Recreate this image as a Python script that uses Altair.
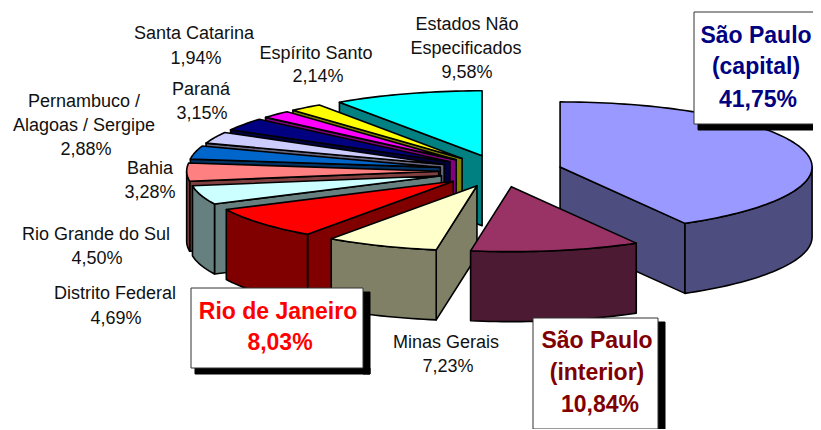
import math
import altair as alt
import pandas as pd

# ---- data ----
regions = ["São Paulo (capital)", "São Paulo (interior)", "Minas Gerais", "Rio de Janeiro",
           "Distrito Federal", "Rio Grande do Sul", "Bahia", "Pernambuco / Alagoas / Sergipe",
           "Paraná", "Santa Catarina", "Espírito Santo", "Estados Não Especificados"]
shares = [41.75, 10.84, 7.23, 8.03, 4.69, 4.50, 3.28, 2.88, 3.15, 1.94, 2.14, 9.58]
top_colors = ["#9999FF", "#993366", "#FFFFCC", "#FF0000", "#CCFFFF", "#FF8080",
              "#0066CC", "#CCCCFF", "#000080", "#FF00FF", "#FFFF00", "#00FFFF"]
side_colors = ["#4D4D80", "#4D1A33", "#808066", "#800000", "#668080", "#804040",
               "#003366", "#666680", "#000040", "#800080", "#808000", "#008080"]

plain_lines = ["Santa Catarina", "1,94%", "Espírito Santo", "2,14%", "Paraná", "3,15%",
               "Pernambuco /", "Alagoas / Sergipe", "2,88%", "Bahia", "3,28%",
               "Rio Grande do Sul", "4,50%", "Distrito Federal", "4,69%",
               "Minas Gerais", "7,23%", "Estados Não", "Especificados", "9,58%"]
bold_lines = ["São Paulo", "(capital)", "41,75%", "São Paulo", "(interior)", "10,84%",
              "Rio de Janeiro", "8,03%"]
bold_colors = ["#000080"] * 3 + ["#800000"] * 3 + ["#FF0000"] * 2

# ---- layout (page pixels) ----
PAGE = 8
CX, CY = 500.4, 171.0      # centre of the unexploded pie
RX, RY = 252.0, 65.0       # ellipse of the tilted pie
DEPTH = 70.0
EXPLODE = 0.245
draw_order = [0, 11, 10, 9, 8, 7, 6, 5, 4, 3, 2, 1]

plain_x = [194, 196, 316, 318, 201, 202, 84, 84, 86, 150, 150, 96, 97, 115, 116, 446, 448, 467, 466, 467]
plain_y = [39, 64, 59, 82, 95, 119, 107, 131, 155, 174, 198, 240, 264, 299, 324, 348, 372, 30, 54, 78]
bold_x = [756, 756, 758, 597, 597, 600, 278, 280]
bold_y = [43, 74, 107, 348, 380, 412, 319, 350]
boxes = [(694, 12, 830, 124), (533, 318, 658, 429), (191, 288, 363, 368)]
shadows = [(698, 124, 830, 130), (658, 322, 665, 430), (363, 292, 370, 374), (195, 368, 370, 374)]


def pt(ax, ay, deg, z=0.0):
    r = math.radians(deg)
    return [ax + RX * math.sin(r) - PAGE, ay - RY * math.cos(r) + z - PAGE]


def feature(ring, fill, stroke="#000000"):
    ring = [list(p) for p in ring]
    ring.append(ring[0])
    return {"type": "Feature", "properties": {"fill": fill, "stroke": stroke},
            "geometry": {"type": "Polygon", "coordinates": [ring]}}


def wall(ax, ay, deg, color):
    apex_top = [ax - PAGE, ay - PAGE]
    apex_bot = [ax - PAGE, ay + DEPTH - PAGE]
    return feature([apex_top, pt(ax, ay, deg), pt(ax, ay, deg, DEPTH), apex_bot], color)


def arc(ax, ay, a, b, z=0.0, steps=None):
    n = steps or max(2, int((b - a) / 1.5) + 1)
    return [pt(ax, ay, a + (b - a) * i / n, z) for i in range(n + 1)]


# Angular extent of every slice, clockwise from twelve o'clock
total = sum(shares)
starts, ends, acc = [], [], 0.0
for s in shares:
    starts.append(acc * 360 / total)
    acc += s
    ends.append(acc * 360 / total)

faces = []
for i in draw_order:
    a, b = starts[i], ends[i]
    mid = math.radians((a + b) / 2)
    ax = CX + EXPLODE * RX * math.sin(mid)
    ay = CY - EXPLODE * RY * math.cos(mid)
    if 180 < a < 360:
        faces.append(wall(ax, ay, a, side_colors[i]))
    if 0 < b < 180:
        faces.append(wall(ax, ay, b, side_colors[i]))
    lo, hi = max(a, 90.0), min(b, 270.0)
    if hi > lo:
        faces.append(feature(arc(ax, ay, lo, hi) + arc(ax, ay, lo, hi, DEPTH)[::-1], side_colors[i]))
    faces.append(feature([[ax - PAGE, ay - PAGE]] + arc(ax, ay, a, b), top_colors[i]))


def rect(r, fill, stroke):
    x0, y0, x1, y1 = [v - PAGE for v in r]
    return feature([[x0, y0], [x1, y0], [x1, y1], [x0, y1]], fill, stroke)


def shapes(features, width):
    return alt.Chart(alt.Data(values=features)).mark_geoshape(
        strokeWidth=width, strokeJoin="round"
    ).encode(
        fill=alt.Fill("properties.fill:N", scale=None, legend=None),
        stroke=alt.Stroke("properties.stroke:N", scale=None, legend=None),
    ).project(type="identity", scale=1, translate=[0, 0])


pie = shapes(faces, 1.6)
box_layer = shapes([rect(r, "#000000", "#000000") for r in shadows]
                   + [rect(r, "#FFFFFF", "#333333") for r in boxes], 1)

plain_df = pd.DataFrame({"t": plain_lines, "x": [v - PAGE for v in plain_x], "y": [v - PAGE for v in plain_y]})
bold_df = pd.DataFrame({"t": bold_lines, "x": [v - PAGE for v in bold_x], "y": [v - PAGE for v in bold_y], "c": bold_colors})

plain_text = alt.Chart(plain_df).mark_text(
    font="Liberation Sans", fontSize=18, align="center", baseline="alphabetic", color="#111111"
).encode(x=alt.X("x:Q", scale=None, axis=None), y=alt.Y("y:Q", scale=None, axis=None), text="t:N")

bold_text = alt.Chart(bold_df).mark_text(
    font="Liberation Sans", fontSize=23, fontWeight="bold", align="center", baseline="alphabetic"
).encode(x=alt.X("x:Q", scale=None, axis=None), y=alt.Y("y:Q", scale=None, axis=None), text="t:N",
         color=alt.Color("c:N", scale=None, legend=None))

chart = alt.layer(pie, box_layer, plain_text, bold_text).properties(
    width=805, height=421, padding=0, autosize=alt.AutoSizeParams(type="none"),
    background="#FFFFFF",
).configure_view(stroke=None)

chart.save("out.html", embed_options={"renderer": "svg", "actions": False})
